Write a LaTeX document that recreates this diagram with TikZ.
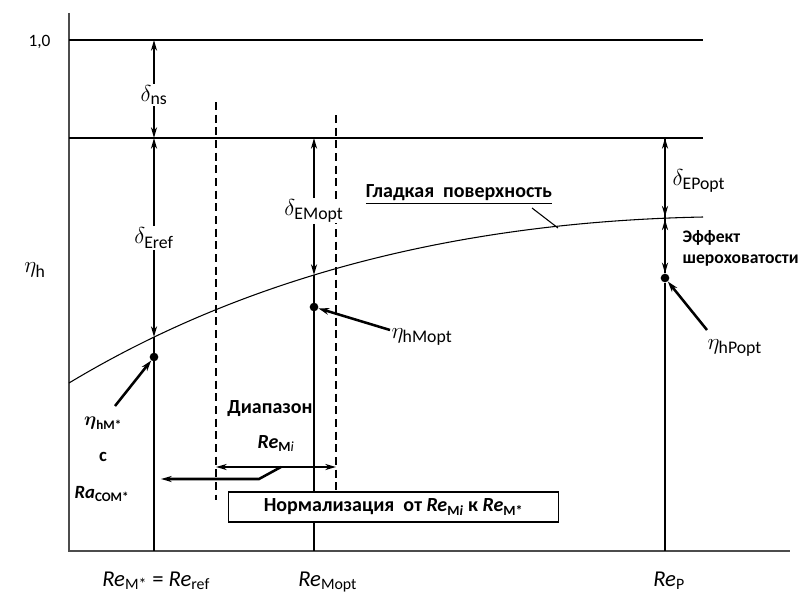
\documentclass[tikz,border=0pt]{standalone}
\usepackage{amsmath}
\usepackage{fontspec}
\setmainfont{Carlito}
\usetikzlibrary{arrows.meta,positioning}
\tikzset{
  axisline/.style={line width=1.4pt, black!70},
  gridline/.style={line width=0.9pt, black},
  thinline/.style={line width=0.8pt, black},
  rangeline/.style={line width=0.8pt, black, dash pattern=on 6pt off 3.5pt},
  dimarr/.style={-{Stealth[length=8pt,width=4.5pt,inset=2.5pt]}, line width=1.9pt},
  ptrarr/.style={-{Stealth[length=8pt,width=5pt,inset=2.5pt]}, line width=1.9pt},
  dot/.style={circle, fill=black, inner sep=0pt, minimum size=6.5pt},
  lbl/.style={font=\fontsize{13}{15}\selectfont, inner sep=1pt},
  grk/.style={font=\fontsize{19}{21}\selectfont, inner sep=1pt},
  blbl/.style={font=\fontsize{15}{17}\selectfont\bfseries, inner sep=1pt},
  dlbl/.style={grk, fill=white},
  axlbl/.style={font=\fontsize{17}{19}\selectfont, inner sep=0pt, anchor=base west},
  normbox/.style={rectangle, draw, line width=0.9pt, fill=white,
    minimum width=248pt, minimum height=22.5pt,
    font=\fontsize{15}{17}\selectfont\bfseries},
}
\newcommand{\ReyM}[1]{\textit{Re}$_{\text{#1}}$}

\begin{document}
\begin{tikzpicture}[x=0.75pt, y=-0.75pt]
\useasboundingbox (0,0) rectangle (806,592);

\def\xA{154}  % Re_M* = Re_ref
\def\xB{314}  % Re_Mopt
\def\xC{665}  % Re_P

% ── оси ────────────────────────────────────────────────────────────────────
\coordinate (o) at (69,551);
\coordinate (ytop) at (69,13);
\coordinate (xend) at (790,551);
\draw[axisline] (ytop) -- (o) -- (xend);
\node[lbl, anchor=east] (one) at (52,42) {1,0};
\node[grk] (etah) at (35,270) {$\eta_{\text{h}}$};

% ── горизонтальные уровни ──────────────────────────────────────────────────
\coordinate (l1a) at (69,40);  \coordinate (l1b) at (703,40);
\coordinate (l2a) at (69,138); \coordinate (l2b) at (703,138);
\draw[gridline] (l1a) -- (l1b);
\draw[gridline] (l2a) -- (l2b);

% ── кривая гладкой поверхности ─────────────────────────────────────────────
\coordinate (cs) at (69,383);
\coordinate (ce) at (703,217);
\draw[thinline] (cs) .. controls (245,277) and (457,222) .. (ce);
\coordinate (cA) at (\xA,337);
\coordinate (cB) at (\xB,275);
\coordinate (cC) at (\xC,218);

% ── диапазон Re_Mi ─────────────────────────────────────────────────────────
\coordinate (dLa) at (216,102); \coordinate (dLb) at (216,500);
\coordinate (dRa) at (336,115); \coordinate (dRb) at (336,491);
\draw[rangeline] (dLa) -- (dLb);
\draw[rangeline] (dRa) -- (dRb);

% ── вертикали и точки ──────────────────────────────────────────────────────
\coordinate (bA) at (\xA,551);
\coordinate (bB) at (\xB,551);
\coordinate (bC) at (\xC,551);
\node[dot] (pA) at (\xA,357) {};
\node[dot] (pB) at (\xB,307) {};
\node[dot] (pC) at (\xC,278) {};
\draw[thinline] (cA) -- (bA);
\draw[thinline] (cB) -- (bB);
\draw[thinline] (pC) -- (bC);

% ── δ-стрелки ──────────────────────────────────────────────────────────────
\coordinate (tA) at (\xA,40);
\coordinate (mA) at (\xA,138);
\coordinate (mB) at (\xB,138);
\coordinate (mC) at (\xC,138);
\node[dlbl] (dns) at (\xA,95) {$\delta_{\text{ns}}$};
\draw[dimarr] (dns) -- (tA);
\draw[dimarr] (dns) -- (mA);
\node[dlbl] (dEref) at (\xA,238) {$\delta_{\text{Eref}}$};
\draw[dimarr] (dEref) -- (mA);
\draw[dimarr] (dEref) -- (cA);
\node[dlbl] (dEMopt) at (\xB,211) {$\delta_{\text{EMopt}}$};
\draw[dimarr] (dEMopt) -- (mB);
\draw[dimarr] (dEMopt) -- (cB);
\node[grk, anchor=west] (dEPopt) at (\xC+6,181) {$\delta_{\text{EPopt}}$};
\draw[dimarr] ([yshift=-1pt]cC) -- (mC);
\draw[dimarr] (mC) -- ([yshift=1pt]cC);
\draw[dimarr] ([yshift=1pt]cC) -- (pC.north);
\draw[dimarr] (pC.north) -- ([yshift=-1pt]cC);

% ── подписи ────────────────────────────────────────────────────────────────
\node[blbl, anchor=west, align=left, font=\fontsize{13.2}{15.8}\selectfont\bfseries]
  (rough) at (\xC+16,248) {Эффект\\шероховатости};
\node[blbl] (glad) at (459,195) {\underline{Гладкая\ \ поверхность}};
\coordinate (gl1) at (532,208);
\coordinate (gl2) at (558,228);
\draw[thinline] (gl1) -- (gl2);

\node[grk, anchor=west] (eMopt) at (390,337) {$\eta_{\text{hMopt}}$};
\coordinate (aMo) at (390,330);
\draw[ptrarr] (aMo) -- (pB);
\node[grk, anchor=west] (ePopt) at (706,348) {$\eta_{\text{hPopt}}$};
\coordinate (aPo) at (707,330);
\draw[ptrarr] (aPo) -- (pC);
\node[blbl, font=\fontsize{14}{16}\selectfont\bfseries] (eMs) at (103,423)
  {$\boldsymbol{\eta}_{\text{hM*}}$};
\coordinate (aMs) at (115,406);
\draw[ptrarr] (aMs) -- (pA);
\node[blbl, font=\fontsize{14}{16}\selectfont\bfseries] (cc) at (103,457) {с};
\node[blbl, font=\fontsize{14}{16}\selectfont\bfseries] (ra) at (102,494)
  {\textit{Ra}$_{\text{COM*}}$};

\node[blbl] (diap) at (270,409) {Диапазон};
\node[blbl] (remi) at (276,444) {\textit{Re}$_{\text{M\textit{\mdseries i}}}$};
\coordinate (rL) at (216,467);
\coordinate (rR) at (336,467);
\draw[dimarr, {Stealth[length=8pt,width=4.5pt,inset=2.5pt]}-{Stealth[length=8pt,width=4.5pt,inset=2.5pt]}] (rL) -- (rR);
\coordinate (zA) at (281,467);
\coordinate (zB) at (259,479);
\coordinate (zE) at (161,479);
\draw[dimarr] (zA) -- (zB) -- (zE);

\node[normbox] (norm) at (393.5,507)
  {Нормализация\ \ от \textit{Re}$_{\text{M\textit{i}}}$ к \textit{Re}$_{\text{M*}}$};

% ── значения по оси x ──────────────────────────────────────────────────────
\node[axlbl] (reA) at (102,586) {\ReyM{M*} = \ReyM{ref}};
\node[axlbl] (reB) at (298,586) {\ReyM{Mopt}};
\node[axlbl] (reC) at (653,586) {\ReyM{P}};

\end{tikzpicture}
\end{document}
